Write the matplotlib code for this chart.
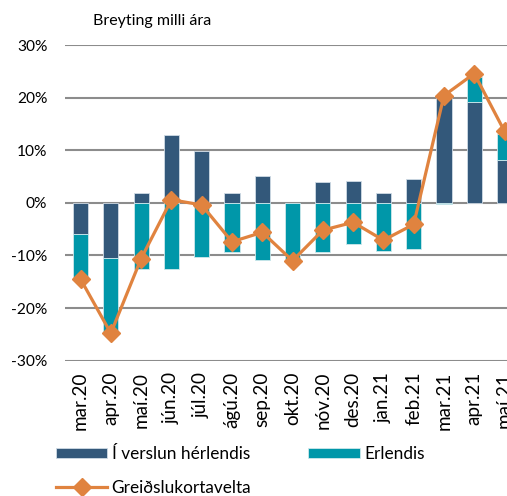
import numpy as np
import matplotlib
matplotlib.use('Agg')
import matplotlib.pyplot as plt

plt.rcParams['font.family'] = ['Lato', 'DejaVu Sans']

# months and year-on-year change (%)
months = ['mar.20', 'apr.20', 'maí.20', 'jún.20', 'júl.20', 'ágú.20', 'sep.20',
          'okt.20', 'nóv.20', 'des.20', 'jan.21', 'feb.21', 'mar.21', 'apr.21', 'maí.21']
domestic = [-6.0, -10.4, 1.9, 13.0, 9.8, 1.8, 5.1, 0.0, 3.9, 4.2, 1.9, 4.5, 20.4, 19.2, 8.2]
abroad = [-8.4, -14.1, -12.5, -12.5, -10.3, -9.3, -10.9, -10.6, -9.3, -7.9, -9.1, -8.7, -0.3, 4.8, 4.9]
total = [-14.5, -24.8, -10.6, 0.6, -0.4, -7.4, -5.6, -11.0, -5.2, -3.7, -7.1, -4.1, 20.4, 24.6, 13.6]

c_dom = '#33587a'
c_abr = '#0097a9'
c_tot = '#e0833f'

fig = plt.figure(figsize=(5.07, 4.96), dpi=100)
ax = fig.add_axes([0.129, 0.273, 0.896, 0.636])

x = np.arange(len(months))
dom = np.array(domestic)
abr = np.array(abroad)
# stack: abroad continues from domestic if same sign, else starts at 0
abr_base = np.where(np.sign(abr) == np.sign(dom), dom, 0)

ax.bar(x, dom, width=0.5, color=c_dom, edgecolor='#d0dbe5', linewidth=0.6,
       label='Í verslun hérlendis', zorder=2)
ax.bar(x, abr, width=0.5, bottom=abr_base, color=c_abr, edgecolor='#cfe8ec',
       linewidth=0.6, label='Erlendis', zorder=2)
ax.plot(x, total, color=c_tot, lw=2.3, marker='D', ms=9.5, mec=c_tot,
        label='Greiðslukortavelta', zorder=3)

ax.set_xlim(-0.5, len(months) - 0.5)
ax.set_ylim(-30, 30)
ax.set_yticks(np.arange(-30, 31, 10))
ax.set_yticklabels([f'{v}%' for v in range(-30, 31, 10)], fontsize=11.2)
ax.yaxis.grid(True, color='#8c8c8c', lw=1.5, zorder=0)
ax.set_axisbelow(True)
ax.set_xticks(x)
ax.set_xticklabels(months, rotation=90, fontsize=13.6)
ax.tick_params(axis='x', length=0, pad=8)
ax.tick_params(axis='y', length=0, pad=13)
for s in ax.spines.values():
    s.set_visible(False)

fig.text(0.183, 0.957, 'Breyting milli ára', fontsize=11.5, va='center')

h, l = ax.get_legend_handles_labels()
order = [1, 0, 2]  # two bars on first row, line on second
fig.legend([h[i] for i in order], [l[i] for i in order], ncol=2,
           loc='upper left', bbox_to_anchor=(0.093, 0.118), frameon=False,
           borderpad=0, fontsize=12.4, handlelength=3.0, handleheight=0.6,
           columnspacing=3.3, labelspacing=1.05, handletextpad=0.25)

fig.savefig('out.png', dpi=100)
